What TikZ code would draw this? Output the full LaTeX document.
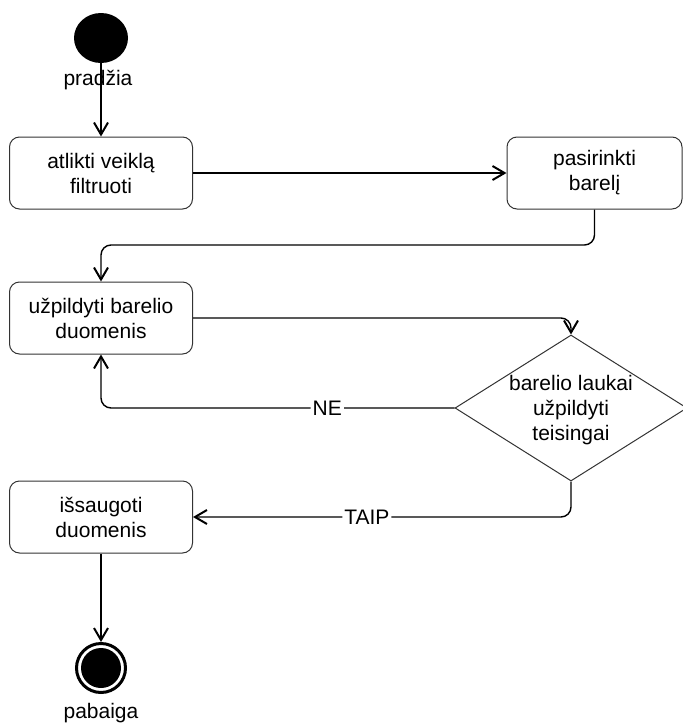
\documentclass[tikz,border=0pt]{standalone}
\usepackage{fontspec}
\setmainfont{Liberation Sans}
\usetikzlibrary{arrows.meta,shapes.geometric}
\begin{document}
\begin{tikzpicture}[x=1pt,y=-1pt,
  every node/.style={font=\fontsize{21}{25}\selectfont},
  actbox/.style={draw=black!80, line width=1pt, rounded corners=10pt, minimum width=183pt, minimum height=72pt, align=center, inner sep=0pt},
  conn/.style={line width=1.4pt, rounded corners=10pt},
  arr/.style={conn, -{Straight Barb[length=12pt,width=14pt,line width=2pt]}},
  lbl/.style={fill=white, inner sep=2pt},
]
\useasboundingbox (0,0) rectangle (683,726);
% nodes
\node[ellipse, fill=black, minimum width=54pt, minimum height=50pt, inner sep=0pt] (start) at (101,38) {};
\node (startlbl) at (98,80) {pradžia};
\node[actbox] (b1) at (101,173) {atlikti veiklą\\filtruoti};
\node[actbox, minimum width=175pt] (b2) at (594.5,173) {pasirinkti\\barelį};
\node[actbox] (b3) at (101,318) {užpildyti barelio\\duomenis};
\node[actbox] (b4) at (101,517) {išsaugoti\\duomenis};
\node[diamond, draw=black!80, line width=1pt, minimum width=232pt, minimum height=146pt, inner sep=0pt] (dia) at (571,408) {};
\node[align=center] (dtext) at (571,410) {barelio laukai\\užpildyti\\teisingai};
\node[circle, draw=black, line width=3pt, minimum size=49pt, inner sep=0pt] (end) at (101,668) {};
\node[circle, fill=black, minimum size=40pt, inner sep=0pt] (endcore) at (end.center) {};
\node (endlbl) at (101,713) {pabaiga};
% connectors
\coordinate (c1) at (594.5,245);
\draw[arr] (start) -- (b1.north);
\draw[arr] (b1) -- (b2);
\draw[arr] (b2.south) -- (c1) -| (b3.north);
\draw[arr] (b3.east) -| (dia.north);
\draw[arr] (dia.west) -| node[pos=0.18, lbl] (ne) {NE} (b3.south);
\draw[arr] (dia.south) |- node[pos=0.77, lbl] (taip) {TAIP} (b4.east);
\draw[arr] (b4) -- (end);
\end{tikzpicture}
\end{document}
